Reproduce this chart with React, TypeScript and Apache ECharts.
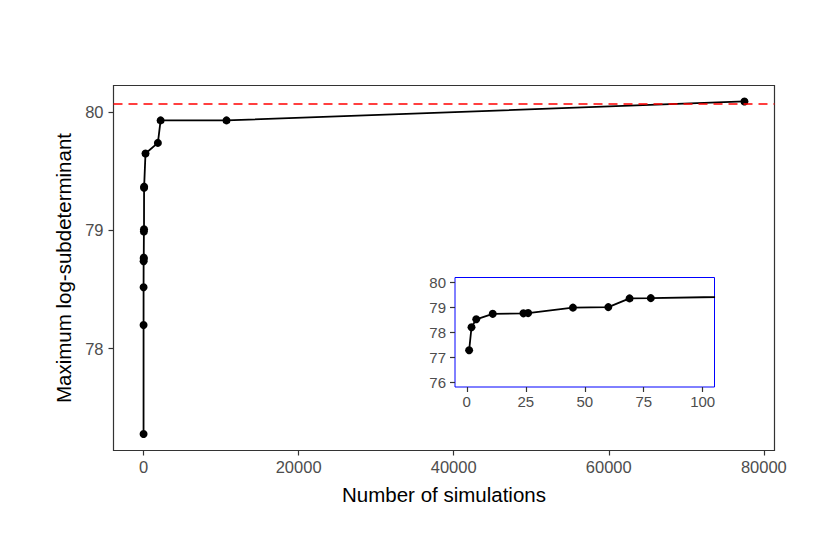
import React, { useEffect, useRef } from "react";
import * as echarts from "echarts";

// Data
const simulations = [1, 2, 4, 11, 24, 26, 45, 60, 69, 78, 250, 1850, 2200, 10700, 77500];
const maxLogSubdet = [77.28, 78.2, 78.52, 78.74, 78.76, 78.77, 78.99, 79.01, 79.36, 79.37, 79.65, 79.74, 79.93, 79.93, 80.09];
const referenceValue = 80.07;

const mainXTicks = [0, 20000, 40000, 60000, 80000];
const mainYTicks = [78, 79, 80];
const insetXTicks = [0, 25, 50, 75, 100];
const insetYTicks = [76, 77, 78, 79, 80];

const FONT = "'Liberation Sans', Arial, Helvetica, sans-serif";
const TICK_COLOR = "#333333";
const LABEL_COLOR = "#4d4d4d";

export default function App() {
  const ref = useRef<HTMLDivElement>(null);

  useEffect(() => {
    if (!ref.current) return;
    const chart = echarts.init(ref.current, undefined, { renderer: "svg" });
    const points = simulations.map((x, i) => [x, maxLogSubdet[i]]);

    const fmt = (v: number) => String(v);

    const makeAxis = (
      gridIndex: number,
      min: number,
      max: number,
      ticks: number[],
      fontSize: number,
      margin: number,
      extra: any = {}
    ) => ({
      type: "value",
      gridIndex,
      min,
      max,
      scale: true,
      axisLine: { show: false, onZero: false },
      splitLine: { show: false },
      axisTick: {
        show: true,
        length: 5,
        inside: false,
        customValues: ticks,
        lineStyle: { color: TICK_COLOR, width: 1.2 },
      },
      axisLabel: {
        customValues: ticks,
        formatter: fmt,
        color: LABEL_COLOR,
        fontSize,
        fontFamily: FONT,
        margin,
      },
      ...extra,
    });

    chart.setOption({
      animation: false,
      backgroundColor: "#ffffff",
      grid: [
        {
          left: 113.5,
          right: 830 - 774.5,
          top: 85.5,
          bottom: 554 - 450.5,
          show: true,
          borderColor: "#333333",
          borderWidth: 1.2,
          backgroundColor: "transparent",
          containLabel: false,
        },
        {
          left: 455,
          right: 830 - 714.5,
          top: 277.5,
          bottom: 554 - 387,
          show: true,
          borderColor: "#0000ff",
          borderWidth: 1,
          backgroundColor: "#ffffff",
          containLabel: false,
          z: 5,
        },
      ],
      xAxis: [
        makeAxis(0, -3875, 81375, mainXTicks, 16.5, 8, {
          name: "Number of simulations",
          nameLocation: "middle",
          nameGap: 33,
          nameTextStyle: { fontSize: 20.5, color: "#000000", fontFamily: FONT },
        }),
        makeAxis(1, -5, 105, insetXTicks, 15, 7, { z: 6 }),
      ],
      yAxis: [
        makeAxis(0, 77.14, 80.225, mainYTicks, 16.5, 10, {
          name: "Maximum log-subdeterminant",
          nameLocation: "middle",
          nameGap: 38,
          nameTextStyle: { fontSize: 20.5, color: "#000000", fontFamily: FONT },
        }),
        makeAxis(1, 75.8, 80.2, insetYTicks, 15, 9, { z: 6 }),
      ],
      graphic: [
        {
          type: "rect",
          z: 100,
          silent: true,
          shape: { x: 715.05, y: 272, width: 10, height: 120 },
          style: { fill: "#ffffff" },
        },
      ],
      series: [
        {
          type: "line",
          xAxisIndex: 0,
          yAxisIndex: 0,
          data: points,
          symbol: "circle",
          symbolSize: 8,
          itemStyle: { color: "#000000" },
          lineStyle: { color: "#000000", width: 1.8 },
          markLine: {
            silent: true,
            symbol: ["none", "none"],
            label: { show: false },
            lineStyle: { color: "#ff0000", type: [9, 6], width: 1.6 },
            data: [{ yAxis: referenceValue }],
          },
        },
        {
          type: "line",
          xAxisIndex: 1,
          yAxisIndex: 1,
          data: points,
          clip: true,
          symbol: "circle",
          symbolSize: 8,
          itemStyle: { color: "#000000" },
          lineStyle: { color: "#000000", width: 1.8 },
          z: 7,
        },
      ],
    });

    return () => chart.dispose();
  }, []);

  return (
    <div
      ref={ref}
      style={{ position: "fixed", left: 0, top: 0, width: 830, height: 554, background: "#fff" }}
    />
  );
}
